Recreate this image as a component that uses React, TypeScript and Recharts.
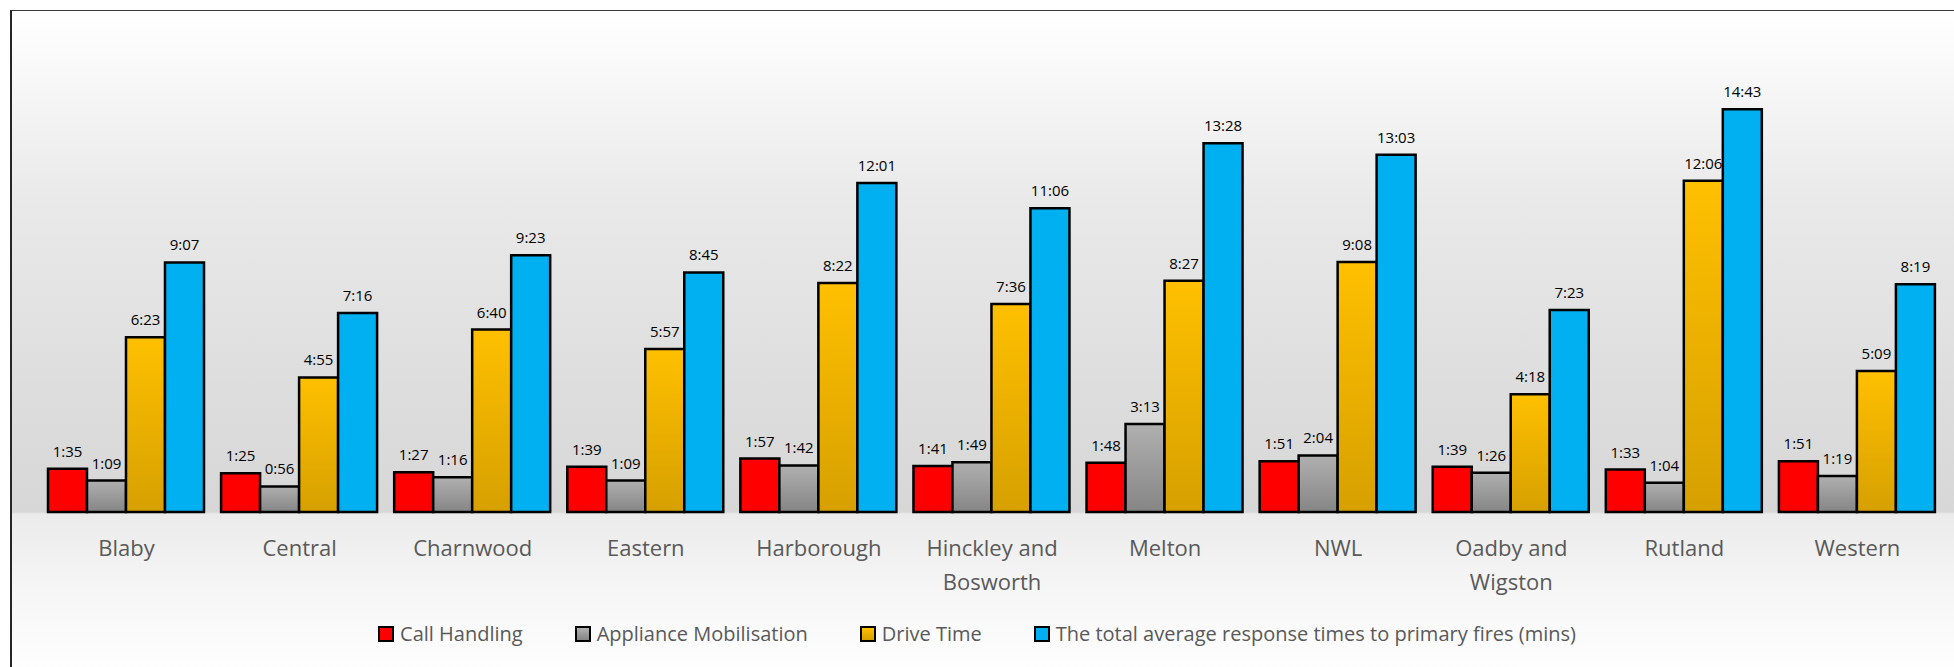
import { BarChart, Bar, XAxis, YAxis, LabelList, Legend } from 'recharts'

const categories = [
  'Blaby',
  'Central',
  'Charnwood',
  'Eastern',
  'Harborough',
  'Hinckley and Bosworth',
  'Melton',
  'NWL',
  'Oadby and Wigston',
  'Rutland',
  'Western',
]

// times (m:ss)
const callHandling = ['1:35', '1:25', '1:27', '1:39', '1:57', '1:41', '1:48', '1:51', '1:39', '1:33', '1:51']
const applianceMobilisation = ['1:09', '0:56', '1:16', '1:09', '1:42', '1:49', '3:13', '2:04', '1:26', '1:04', '1:19']
const driveTime = ['6:23', '4:55', '6:40', '5:57', '8:22', '7:36', '8:27', '9:08', '4:18', '12:06', '5:09']
const totalResponse = ['9:07', '7:16', '9:23', '8:45', '12:01', '11:06', '13:28', '13:03', '7:23', '14:43', '8:19']

const seriesNames = [
  'Call Handling',
  'Appliance Mobilisation',
  'Drive Time',
  'The total average response times to primary fires (mins)',
]

const toSeconds = (t: string) => {
  const [m, s] = t.split(':').map(Number)
  return m * 60 + s
}

const fmt = (v: any) => {
  const n = Number(v)
  const m = Math.floor(n / 60)
  const s = n % 60
  return `${m}:${s < 10 ? '0' : ''}${s}`
}

const data = categories.map((name, i) => ({
  name,
  call: toSeconds(callHandling[i]),
  mob: toSeconds(applianceMobilisation[i]),
  drive: toSeconds(driveTime[i]),
  total: toSeconds(totalResponse[i]),
}))

const FONT = '"Open Sans", "Liberation Sans", sans-serif'

const SWATCHES = [
  '#ff0000',
  'linear-gradient(to bottom, #b0b0b0, #858585)',
  'linear-gradient(to bottom, #ffc000, #d6a000)',
  '#00b0f0',
]

const CategoryTick = ({ x, y, payload }: any) => {
  const label: string = payload.value
  const lines = label.includes(' and ')
    ? [label.slice(0, label.indexOf(' and ') + 4), label.slice(label.indexOf(' and ') + 5)]
    : [label]
  return (
    <text x={x} y={y} textAnchor="middle" fill="#595959" fontSize={22} fontFamily={FONT}>
      {lines.map((l, i) => (
        <tspan key={i} x={x} dy={i === 0 ? 44 : 34}>
          {l}
        </tspan>
      ))}
    </text>
  )
}

const ChartLegend = () => (
  <div style={{ display: 'flex', justifyContent: 'center', gap: 52, fontFamily: FONT }}>
    {seriesNames.map((n, i) => (
      <div key={n} style={{ display: 'flex', alignItems: 'center', gap: 6 }}>
        <div
          style={{
            width: 12,
            height: 12,
            border: '2px solid #000',
            background: SWATCHES[i],
          }}
        />
        <span style={{ fontSize: 20, color: '#595959' }}>{n}</span>
      </div>
    ))}
  </div>
)

const labelStyle = { fontSize: 15, fill: '#000', fontFamily: FONT }

export default function App() {
  return (
    <div style={{ position: 'absolute', left: 0, top: 0, width: 1954, height: 667, background: '#fff', overflow: 'hidden' }}>
      {/* chart frame with the grey gradient fill */}
      <div
        style={{
          position: 'absolute',
          left: 10,
          top: 10,
          width: 1960,
          height: 680,
          borderTop: '1.5px solid #3a3a3a',
          borderLeft: '2px solid #262626',
          background:
            'linear-gradient(to bottom, #ffffff 0px, #fbfbfb 40px, #e9e9e9 190px, #dddddd 380px, #d7d7d7 501px, #ebebeb 503px, #f6f6f6 580px, #fefefe 657px)',
        }}
      />
      <div style={{ position: 'absolute', left: 0, top: 0 }}>
        <BarChart
          width={1954}
          height={667}
          data={data}
          margin={{ top: 74, right: 10, bottom: 125, left: 40 }}
          barCategoryGap={8}
          barGap={0}
        >
          <defs>
            <linearGradient id="greyFill" x1="0" y1="0" x2="0" y2="1">
              <stop offset="0%" stopColor="#b0b0b0" />
              <stop offset="100%" stopColor="#858585" />
            </linearGradient>
            <linearGradient id="goldFill" x1="0" y1="0" x2="0" y2="1">
              <stop offset="0%" stopColor="#ffc000" />
              <stop offset="100%" stopColor="#d6a000" />
            </linearGradient>
          </defs>
          <XAxis
            dataKey="name"
            axisLine={false}
            tickLine={false}
            tickSize={0}
            tickMargin={0}
            height={30}
            interval={0}
            tick={<CategoryTick />}
          />
          <YAxis hide domain={[0, 960]} />
          <Legend
            layout="horizontal"
            verticalAlign="middle"
            align="center"
            content={<ChartLegend />}
            wrapperStyle={{ top: 620, left: 0, width: 1954 }}
          />
          <Bar dataKey="call" name={seriesNames[0]} fill="#ff0000" stroke="#000" strokeWidth={2.5} isAnimationActive={false}>
            <LabelList dataKey="call" position="top" offset={12} formatter={fmt} style={labelStyle} />
          </Bar>
          <Bar dataKey="mob" name={seriesNames[1]} fill="url(#greyFill)" stroke="#000" strokeWidth={2.5} isAnimationActive={false}>
            <LabelList dataKey="mob" position="top" offset={12} formatter={fmt} style={labelStyle} />
          </Bar>
          <Bar dataKey="drive" name={seriesNames[2]} fill="url(#goldFill)" stroke="#000" strokeWidth={2.5} isAnimationActive={false}>
            <LabelList dataKey="drive" position="top" offset={12} formatter={fmt} style={labelStyle} />
          </Bar>
          <Bar dataKey="total" name={seriesNames[3]} fill="#00b0f0" stroke="#000" strokeWidth={2.5} isAnimationActive={false}>
            <LabelList dataKey="total" position="top" offset={12} formatter={fmt} style={labelStyle} />
          </Bar>
        </BarChart>
      </div>
    </div>
  )
}
